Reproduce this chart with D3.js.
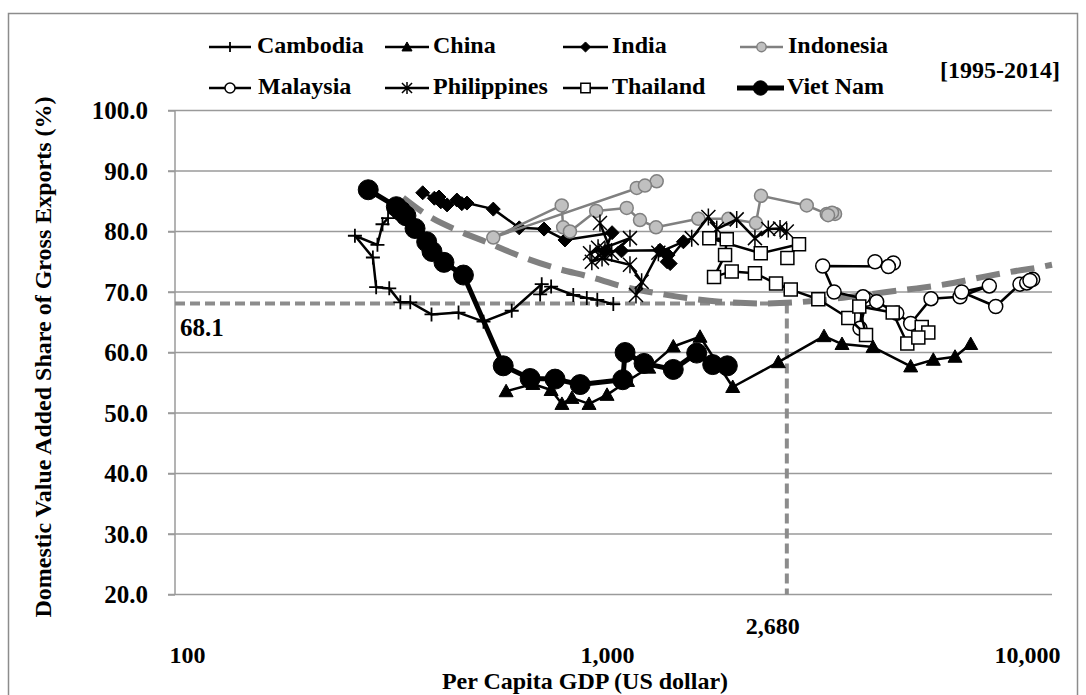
<!DOCTYPE html>
<html>
<head>
<meta charset="utf-8">
<script src="https://cdn.jsdelivr.net/npm/d3@7"></script>
<style>
  body { margin: 0; background: #fff; }
  text { font-family: "Liberation Serif", "Times New Roman", serif; font-weight: bold; fill: #000; }
</style>
</head>
<body>
<svg id="chart" width="1086" height="695"></svg>
<script>
// Per capita GDP (US$) and domestic value added share of gross exports (%), 1995-2014
const years = d3.range(1995, 2015);

const cambodiaGdp = [301, 292, 284, 251, 277, 282, 303, 322, 340, 382, 443, 508, 593, 699, 693, 736, 831, 895, 948, 1035];
const cambodiaDva = [82.2, 81.2, 77.8, 79.3, 75.7, 70.8, 70.6, 68.3, 68.3, 66.3, 66.6, 65.1, 66.9, 71.3, 69.6, 70.9, 69.5, 69.0, 68.7, 68.0];

const chinaGdp = [575, 666, 736, 781, 825, 906, 1000, 1119, 1257, 1438, 1665, 1992, 2558, 3286, 3627, 4298, 5285, 5982, 6739, 7345];
const chinaDva = [53.6, 54.8, 53.8, 51.5, 52.5, 51.5, 53.0, 55.3, 57.5, 61.0, 62.6, 54.3, 58.4, 62.7, 61.4, 60.9, 57.7, 58.8, 59.3, 61.4];

const indiaGdp = [364, 388, 398, 402, 416, 439, 451, 464, 536, 618, 708, 794, 1028, 989, 1083, 1337, 1414, 1397, 1390, 1520];
const indiaDva = [86.4, 85.5, 85.7, 84.9, 84.4, 85.2, 84.6, 84.7, 83.7, 80.6, 80.4, 78.6, 79.8, 76.7, 76.8, 76.9, 74.7, 76.1, 75.0, 78.3];

const indonesiaGdp = [1177, 1313, 1231, 536, 780, 786, 816, 942, 1114, 1198, 1308, 1650, 1945, 2263, 2326, 2989, 3336, 3491, 3434, 3360];
const indonesiaDva = [87.2, 88.3, 87.6, 79.0, 84.3, 80.7, 80.0, 83.4, 83.9, 81.9, 80.7, 82.1, 82.1, 81.4, 85.9, 84.3, 82.9, 82.9, 83.1, 82.7];

const malaysiaGdp = [4346, 4806, 4676, 3263, 3472, 4152, 4003, 4069, 4386, 4896, 5285, 5908, 6927, 8133, 6991, 8424, 9623, 9984, 10318, 10165];
const malaysiaDva = [75.0, 74.8, 74.2, 74.3, 70.0, 68.8, 64.0, 69.2, 68.4, 66.5, 64.8, 68.9, 69.2, 71.0, 70.0, 67.6, 71.3, 71.5, 72.1, 71.9];

const philippinesGdp = [962, 1026, 1134, 911, 952, 989, 920, 973, 1134, 1209, 1172, 1325, 1591, 1743, 1825, 2036, 2250, 2421, 2582, 2679];
const philippinesDva = [81.4, 76.4, 78.9, 76.4, 77.3, 76.9, 75.0, 75.6, 74.5, 71.7, 69.5, 76.5, 78.9, 82.4, 80.4, 82.0, 78.9, 80.4, 80.5, 80.0];

const thailandGdp = [2688, 2865, 2323, 1752, 1928, 1910, 1798, 1981, 2250, 2526, 2738, 3185, 3754, 4137, 3987, 4789, 5188, 5615, 5821, 5511];
const thailandDva = [75.6, 77.9, 76.4, 78.9, 78.7, 76.1, 72.5, 73.4, 73.1, 71.4, 70.4, 68.8, 65.7, 62.9, 67.6, 66.6, 61.5, 64.2, 63.3, 62.5];

const vietnamGdp = [270, 315, 323, 332, 349, 372, 383, 409, 455, 566, 656, 752, 863, 1090, 1104, 1225, 1438, 1635, 1785, 1934];
const vietnamDva = [86.9, 84.1, 83.4, 82.6, 80.5, 78.3, 76.7, 74.9, 72.8, 57.8, 55.7, 55.6, 54.7, 55.5, 60.0, 58.2, 57.2, 59.9, 58.0, 57.8];

// Pooled quadratic trend (log GDP), sampled along its course
const trendGdp = [327, 379, 447, 527, 597, 759, 911, 1092, 1313, 1548, 1858, 2313, 3094, 3790, 4635, 5463, 6556, 7870, 9260, 10917, 11469];
const trendDva = [85.6, 82.4, 80.0, 78.0, 76.4, 73.9, 72.5, 70.9, 69.8, 69.0, 68.4, 68.1, 68.5, 69.2, 70.0, 70.6, 71.4, 72.5, 73.4, 74.2, 74.5];

// Turning point of the trend
const turnGdp = 2680;
const turnDva = 68.1;

const yTicks = [20, 30, 40, 50, 60, 70, 80, 90, 100];
const xTicks = [100, 1000, 10000];
const xDomain = [93.6, 11469];
const periodLabel = "[1995-2014]";

// ---------------------------------------------------------------
const svg = d3.select("#chart");
const W = 1086, H = 695;
const plot = { left: 175, right: 1052, top: 110.5, bottom: 594.5 };

const x = d3.scaleLog().domain(xDomain).range([plot.left, plot.right]);
const y = d3.scaleLinear().domain([20, 100]).range([plot.bottom, plot.top]);

svg.append("rect").attr("width", W).attr("height", H).attr("fill", "#fff");
// outer frame
svg.append("rect").attr("x", 8.5).attr("y", 13.5).attr("width", 1069).attr("height", 700)
  .attr("fill", "none").attr("stroke", "#8c8c8c").attr("stroke-width", 1.5);

const GRID = "#9a9a9a";

// horizontal gridlines with short outside ticks
svg.append("g").selectAll("line").data(yTicks.slice(1)).join("line")
  .attr("x1", plot.left - 7).attr("x2", plot.right)
  .attr("y1", d => y(d)).attr("y2", d => y(d))
  .attr("stroke", GRID).attr("stroke-width", 1.5);

// y axis
const yAxis = svg.append("g").attr("transform", `translate(${plot.left},0)`)
  .call(d3.axisLeft(y).tickValues(yTicks).tickSize(7).tickPadding(20).tickFormat(d3.format(".1f")));
yAxis.select(".domain").attr("stroke", GRID).attr("stroke-width", 1.5)
  .attr("d", `M0,${plot.bottom}V${plot.top}`);
yAxis.selectAll(".tick line").attr("stroke", GRID).attr("stroke-width", 1.5);
yAxis.selectAll(".tick text").attr("font-size", 25).attr("font-family", null);

// x axis
const xAxis = svg.append("g").attr("transform", `translate(0,${plot.bottom})`)
  .call(d3.axisBottom(x).tickValues(xTicks).tickSize(0).tickFormat(d3.format(",")));
xAxis.select(".domain").attr("stroke", GRID).attr("stroke-width", 1.5)
  .attr("d", `M${plot.left - 7},0H${plot.right}`);
xAxis.selectAll(".tick text").attr("font-size", 24).attr("font-family", null)
  .attr("y", 60).attr("dy", "0.35em");

// axis titles
svg.append("text").attr("x", 585).attr("y", 683).attr("text-anchor", "middle")
  .attr("dominant-baseline", "middle").attr("font-size", 24)
  .text("Per Capita GDP (US dollar)");
svg.append("text").attr("transform", "translate(45,357) rotate(-90)")
  .attr("text-anchor", "middle").attr("dominant-baseline", "middle").attr("font-size", 24)
  .text("Domestic Value Added Share of Gross Exports (%)");

// turning-point guide lines
const REF = "#8c8c8c";
svg.append("line").attr("x1", plot.left).attr("x2", x(turnGdp))
  .attr("y1", y(turnDva)).attr("y2", y(turnDva))
  .attr("stroke", REF).attr("stroke-width", 4).attr("stroke-dasharray", "10,5");
svg.append("line").attr("x1", x(turnGdp)).attr("x2", x(turnGdp))
  .attr("y1", y(turnDva)).attr("y2", plot.bottom)
  .attr("stroke", REF).attr("stroke-width", 4).attr("stroke-dasharray", "10,5");
svg.append("text").attr("x", 180).attr("y", y(turnDva) + 27).attr("font-size", 25)
  .attr("dominant-baseline", "middle").text(d3.format(".1f")(turnDva));
svg.append("text").attr("x", x(turnGdp) - 14).attr("y", 628).attr("font-size", 24)
  .attr("text-anchor", "middle").attr("dominant-baseline", "middle")
  .text(d3.format(",")(turnGdp));

// trend curve
const trendPts = trendGdp.map((g, i) => [x(g), y(trendDva[i])]);
svg.append("path").attr("d", d3.line().curve(d3.curveMonotoneX)(trendPts))
  .attr("fill", "none").attr("stroke", "#808080").attr("stroke-width", 6)
  .attr("stroke-dasharray", "24,11");

// marker shapes
const shapes = {
  plus: s => `M${-7*s},0H${7*s}M0,${-7*s}V${7*s}`,
  triangle: s => `M0,${-7*s}L${7*s},${5.5*s}L${-7*s},${5.5*s}Z`,
  diamond: s => `M0,${-7*s}L${7*s},0L0,${7*s}L${-7*s},0Z`,
  square: s => `M${-6.5*s},${-6.5*s}h${13*s}v${13*s}h${-13*s}Z`,
  asterisk: s => `M${-7*s},${-7*s}L${7*s},${7*s}M${-7*s},${7*s}L${7*s},${-7*s}M0,${-8.5*s}V${8.5*s}`,
  circle: r => s => d3.arc()({ innerRadius: 0, outerRadius: r * s, startAngle: 0, endAngle: 2 * Math.PI })
};

const series = [
  { name: "Cambodia", gdp: cambodiaGdp, dva: cambodiaDva, line: "#000", lw: 2.5, shape: shapes.plus, fill: "none", stroke: "#000", sw: 1.8 },
  { name: "China", gdp: chinaGdp, dva: chinaDva, line: "#000", lw: 2.5, shape: shapes.triangle, fill: "#000", stroke: "#000", sw: 1 },
  { name: "India", gdp: indiaGdp, dva: indiaDva, line: "#000", lw: 2.5, shape: shapes.diamond, fill: "#000", stroke: "#000", sw: 1 },
  { name: "Indonesia", gdp: indonesiaGdp, dva: indonesiaDva, line: "#808080", lw: 2.5, shape: shapes.circle(6.5), fill: "#c0c0c0", stroke: "#808080", sw: 1.5 },
  { name: "Malaysia", gdp: malaysiaGdp, dva: malaysiaDva, line: "#000", lw: 2.5, shape: shapes.circle(7), fill: "#fff", stroke: "#000", sw: 1.5 },
  { name: "Philippines", gdp: philippinesGdp, dva: philippinesDva, line: "#000", lw: 2.5, shape: shapes.asterisk, fill: "none", stroke: "#000", sw: 1.5 },
  { name: "Thailand", gdp: thailandGdp, dva: thailandDva, line: "#000", lw: 2.5, shape: shapes.square, fill: "#fff", stroke: "#000", sw: 1.5 },
  { name: "Viet Nam", gdp: vietnamGdp, dva: vietnamDva, line: "#000", lw: 5, shape: shapes.circle(10), fill: "#000", stroke: "#000", sw: 1 }
];

const lineGen = d3.line().x(d => x(d.gdp)).y(d => y(d.dva));

series.forEach(s => {
  const pts = years.map((yr, i) => ({ year: yr, gdp: s.gdp[i], dva: s.dva[i] }));
  const g = svg.append("g").attr("class", "series");
  g.append("path").attr("d", lineGen(pts)).attr("fill", "none")
    .attr("stroke", s.line).attr("stroke-width", s.lw).attr("stroke-linejoin", "round");
  g.selectAll("path.m").data(pts).join("path").attr("class", "m")
    .attr("transform", d => `translate(${x(d.gdp)},${y(d.dva)})`)
    .attr("d", s.shape(1)).attr("fill", s.fill).attr("stroke", s.stroke).attr("stroke-width", s.sw);
});

// legend
const legendPos = [
  { x1: 209, x2: 251, tx: 257, y: 47 },
  { x1: 385, x2: 429, tx: 433, y: 47 },
  { x1: 563, x2: 608, tx: 612, y: 47 },
  { x1: 740, x2: 783, tx: 788, y: 47 },
  { x1: 209, x2: 251, tx: 258, y: 88 },
  { x1: 385, x2: 429, tx: 433, y: 88 },
  { x1: 563, x2: 608, tx: 612, y: 88 },
  { x1: 737, x2: 784, tx: 787, y: 88 }
];
const legend = svg.append("g").attr("class", "legend");
series.forEach((s, i) => {
  const p = legendPos[i];
  const g = legend.append("g");
  g.append("line").attr("x1", p.x1).attr("x2", p.x2).attr("y1", p.y).attr("y2", p.y)
    .attr("stroke", s.line).attr("stroke-width", s.lw);
  g.append("path").attr("transform", `translate(${(p.x1 + p.x2) / 2},${p.y})`)
    .attr("d", s.shape(0.72)).attr("fill", s.fill).attr("stroke", s.stroke).attr("stroke-width", s.sw);
  g.append("text").attr("x", p.tx).attr("y", p.y).attr("dominant-baseline", "middle")
    .attr("font-size", 24).text(s.name);
});
svg.append("text").attr("x", 1060).attr("y", 72).attr("text-anchor", "end")
  .attr("dominant-baseline", "middle").attr("font-size", 24).text(periodLabel);
</script>
</body>
</html>
